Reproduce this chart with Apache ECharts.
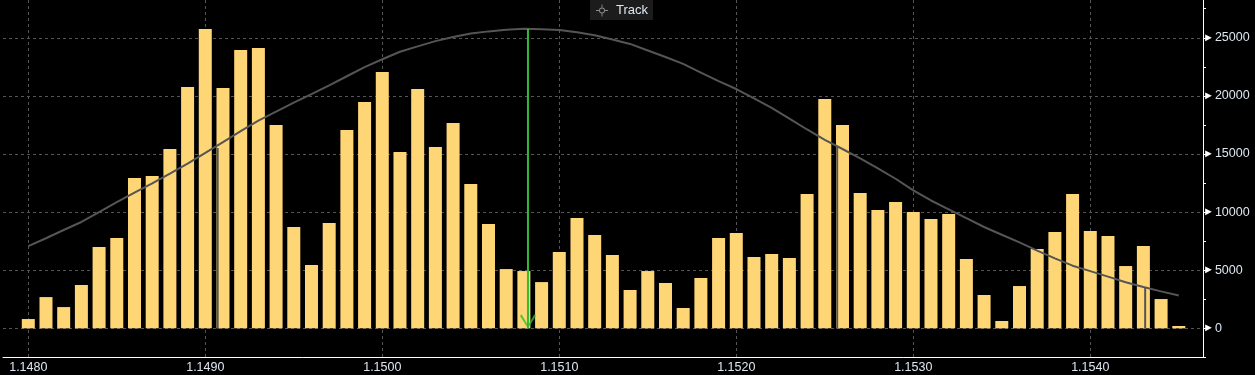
<!DOCTYPE html>
<html>
<head>
<meta charset="utf-8">
<style>
html,body{margin:0;padding:0;background:#000;}
#chart{width:1255px;height:375px;}
</style>
<script src="https://cdn.jsdelivr.net/npm/echarts@6/dist/echarts.min.js"></script>
</head>
<body>
<div id="chart"></div>
<script>
// price levels (x categories)
var priceLevels = [
  1.1480,1.1481,1.1482,1.1483,1.1484,1.1485,1.1486,1.1487,1.1488,1.1489,
  1.1490,1.1491,1.1492,1.1493,1.1494,1.1495,1.1496,1.1497,1.1498,1.1499,
  1.1500,1.1501,1.1502,1.1503,1.1504,1.1505,1.1506,1.1507,1.1508,1.1509,
  1.1510,1.1511,1.1512,1.1513,1.1514,1.1515,1.1516,1.1517,1.1518,1.1519,
  1.1520,1.1521,1.1522,1.1523,1.1524,1.1525,1.1526,1.1527,1.1528,1.1529,
  1.1530,1.1531,1.1532,1.1533,1.1534,1.1535,1.1536,1.1537,1.1538,1.1539,
  1.1540,1.1541,1.1542,1.1543,1.1544,1.1545
];
// volume at each price level (bars)
var volumes = [
  800,2690,1830,3730,7000,7770,12940,13110,15430,20770,
  25760,20680,23950,24120,17500,8720,5450,9060,17070,19480,
  22060,15170,20600,15600,17670,12420,8980,5100,4930,3980,
  6570,9490,8030,6310,3300,4930,3900,1750,4330,7770,
  8200,6140,6390,6050,11560,19730,17500,11640,10180,10870,
  10010,9410,9840,5960,2870,630,3640,6820,8290,11560,
  8370,7940,5360,7080,2520,200
];
// fitted distribution curve, read at each price level
var curveValues = [
  7080,7750,8460,9150,10000,10850,11680,12470,13310,14180,
  15090,16020,16960,17870,18640,19420,20150,20900,21690,22480,
  23150,23800,24260,24710,25060,25370,25550,25700,25770,25730,
  25670,25480,25220,24850,24470,23910,23350,22750,22010,21270,
  20590,19790,18960,18050,17110,16210,15430,14630,13770,12870,
  11870,11000,10240,9480,8720,8050,7390,6690,6020,5390,
  4920,4450,3960,3550,3180,2820
];
// grey deviation markers [price, curve height]
var sigmaPrices = [1.14907, 1.15257, 1.15431];
var sigmaTops = [15520, 15690, 3490];
// green track marker
var trackPrice = 1.150823;
var trackTop = 25770;
// axis ranges
var xMin = 1.1478571, xMax = 1.1546368;
var yMin = -2500, yMax = 28250, yStep = 2500, yLabelStep = 5000;

var txt = '#dde6f0';
var fontFam = '"Liberation Sans", Arial, sans-serif';

var barData = priceLevels.map(function(p, i){ return [p, volumes[i]]; });
var curveData = priceLevels.map(function(p, i){ return [p, curveValues[i]]; });

var series = [
  {
    type: 'bar', name: 'Volume', data: barData, barWidth: 13,
    itemStyle: { color: '#ffd675' }, z: 2, silent: true
  },
  {
    type: 'line', name: 'Curve', data: curveData, showSymbol: false, symbol: 'none',
    lineStyle: { color: '#555555', width: 2 }, z: 3, silent: true
  }
];
sigmaPrices.forEach(function(p, i){
  series.push({
    type: 'line', name: 'sigma' + i, data: [[p, 0], [p, sigmaTops[i]]],
    symbol: 'none', lineStyle: { color: '#555555', width: 2 }, z: 3, silent: true
  });
});
series.push({
  type: 'line', name: 'Track', data: [[trackPrice, trackTop], [trackPrice, 0]],
  symbol: 'none', lineStyle: { color: '#2fbd2f', width: 2 }, z: 4, silent: true
});
series.push({
  type: 'scatter', name: 'TrackArrow', data: [[trackPrice, 0]],
  symbol: 'path://M0,2 L2,0 L10,14 L18,0 L20,2 L10,18 Z',
  symbolSize: [16, 14], symbolOffset: [0, -7],
  itemStyle: { color: '#2fbd2f' }, z: 5, silent: true
});

var crosshair = 'path://M10,5 A5,5 0 1,1 9.99,5 Z M10,6.5 A3.5,3.5 0 1,0 10.01,6.5 Z ' +
  'M9.25,0 h1.5 v6 h-1.5 Z M9.25,14 h1.5 v6 h-1.5 Z M0,9.25 h6 v1.5 h-6 Z M14,9.25 h6 v1.5 h-6 Z';

var chart = echarts.init(document.getElementById('chart'), null, { renderer: 'canvas' });
chart.setOption({
  backgroundColor: '#000000',
  animation: false,
  textStyle: { fontFamily: fontFam },
  legend: {
    data: [{ name: 'Track', icon: crosshair, itemStyle: { color: '#8a8a8a' } }],
    left: 590, top: 0, itemWidth: 12, itemHeight: 12,
    backgroundColor: '#1c1c1c', padding: [4, 5, 3, 6],
    textStyle: { color: txt, fontSize: 13, fontFamily: fontFam, padding: [0, 0, 0, 3] },
    selectedMode: false
  },
  grid: { left: 3, right: 52, top: 0, bottom: 17.6, outerBoundsMode: 'none', containLabel: false },
  xAxis: {
    type: 'value', min: xMin, max: xMax,
    axisLine: { show: true, onZero: false, lineStyle: { color: '#ffffff', width: 1 } },
    axisTick: { show: false },
    axisLabel: {
      color: txt, fontSize: 12.5, fontFamily: fontFam, margin: 4,
      showMinLabel: false, showMaxLabel: false,
      formatter: function(v){ return v.toFixed(4); }
    },
    splitLine: { show: true, showMinLine: false, showMaxLine: false,
      lineStyle: { color: '#555555', type: [3, 3], width: 1 } }
  },
  yAxis: {
    type: 'value', position: 'right', min: yMin, max: yMax, interval: yStep,
    axisLine: { show: true, lineStyle: { color: '#ffffff', width: 1 } },
    axisTick: { show: true, length: 3, lineStyle: { color: '#ffffff' } },
    axisLabel: {
      color: txt, fontSize: 12.5, fontFamily: fontFam, margin: 0,
      showMaxLabel: false,
      formatter: function(v){
        if (v >= 0 && v % yLabelStep === 0 && v <= 25000) return '{t|\u25BA}' + v;
        return '';
      },
      rich: { t: { color: '#ffffff', fontSize: 11, padding: [0, 1, 0, 0] } }
    },
    splitLine: { show: true, showMinLine: false, showMaxLine: false,
      lineStyle: { color: ['#555555', 'rgba(0,0,0,0)'], type: [3, 3], width: 1 } }
  },
  series: series
});
</script>
</body>
</html>
